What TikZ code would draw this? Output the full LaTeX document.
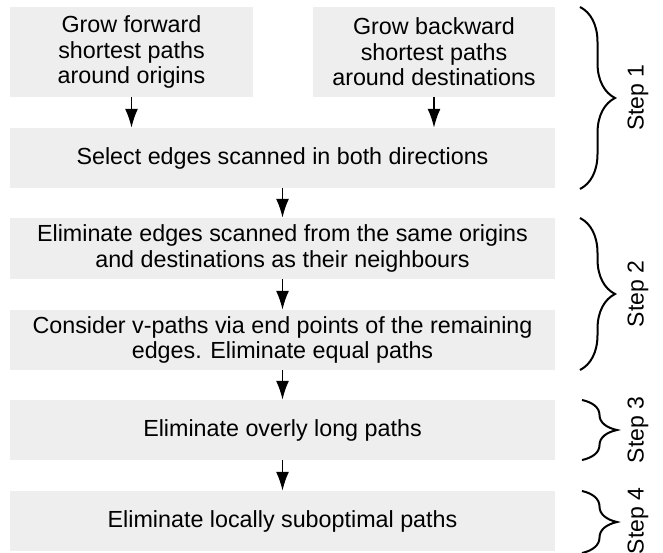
\documentclass[tikz,border=0pt]{standalone}
\usepackage{fontspec}
\setmainfont{Liberation Sans}
\usetikzlibrary{arrows.meta,decorations.pathreplacing}
\definecolor{boxgray}{RGB}{238,238,238}

\begin{document}
\begin{tikzpicture}[x=1pt,y=-1pt,
  stage/.style={fill=boxgray,align=center,inner sep=0pt,minimum width=545pt,minimum height=60pt,
    font=\fontsize{23.3}{25.5}\selectfont},
  flow/.style={-{Latex[length=19pt,width=13pt]},line width=1.8pt},
  curly/.style={decorate,decoration={brace,amplitude=35pt},line width=2pt},
  steplabel/.style={rotate=90,inner sep=0pt,font=\fontsize{23}{25}\selectfont}]
\useasboundingbox (0,0) rectangle (663,552);
% step 1
\node[stage,minimum width=243pt,minimum height=90pt] (fwd) at (131.5,52) {Grow forward\\shortest paths\\around origins};
\node[stage,minimum width=242pt,minimum height=90pt] (bwd) at (434,52) {Grow backward\\shortest paths\\around destinations};
\node[stage] (sel) at (282.5,158) {Select edges scanned in both directions};
% step 2
\node[stage,minimum height=61pt] (elim) at (282.5,248.5) {Eliminate edges scanned from the same origins\\and destinations as their neighbours};
\node[stage] (vpath) at (282.5,340) {Consider v-paths via end points of the remaining\\edges. Eliminate equal paths};
% steps 3 and 4
\node[stage] (long) at (282.5,430) {Eliminate overly long paths};
\node[stage] (local) at (282.5,521) {Eliminate locally suboptimal paths};

\draw[flow] (fwd.south) -- (fwd.south |- sel.north);
\draw[flow] (bwd.south) -- (bwd.south |- sel.north);
\draw[flow] (sel.south) -- (elim.north);
\draw[flow] (elim.south) -- (vpath.north);
\draw[flow] (vpath.south) -- (long.north);
\draw[flow] (long.south) -- (local.north);

\coordinate (b1) at (580,7);
\coordinate (e1) at (580,189);
\coordinate (b2) at (580,218);
\coordinate (e2) at (580,370);
\coordinate (b3) at (582,400);
\coordinate (e3) at (582,460);
\coordinate (b4) at (582,491);
\coordinate (e4) at (582,553);
\draw[curly] (b1) -- (e1);
\draw[curly] (b2) -- (e2);
\draw[curly] (b3) -- (e3);
\draw[curly] (b4) -- (e4);

\node[steplabel] (s1) at (638,97.5) {Step 1};
\node[steplabel] (s2) at (638,294) {Step 2};
\node[steplabel] (s3) at (638,430) {Step 3};
\node[steplabel] (s4) at (638,521) {Step 4};
\end{tikzpicture}
\end{document}
